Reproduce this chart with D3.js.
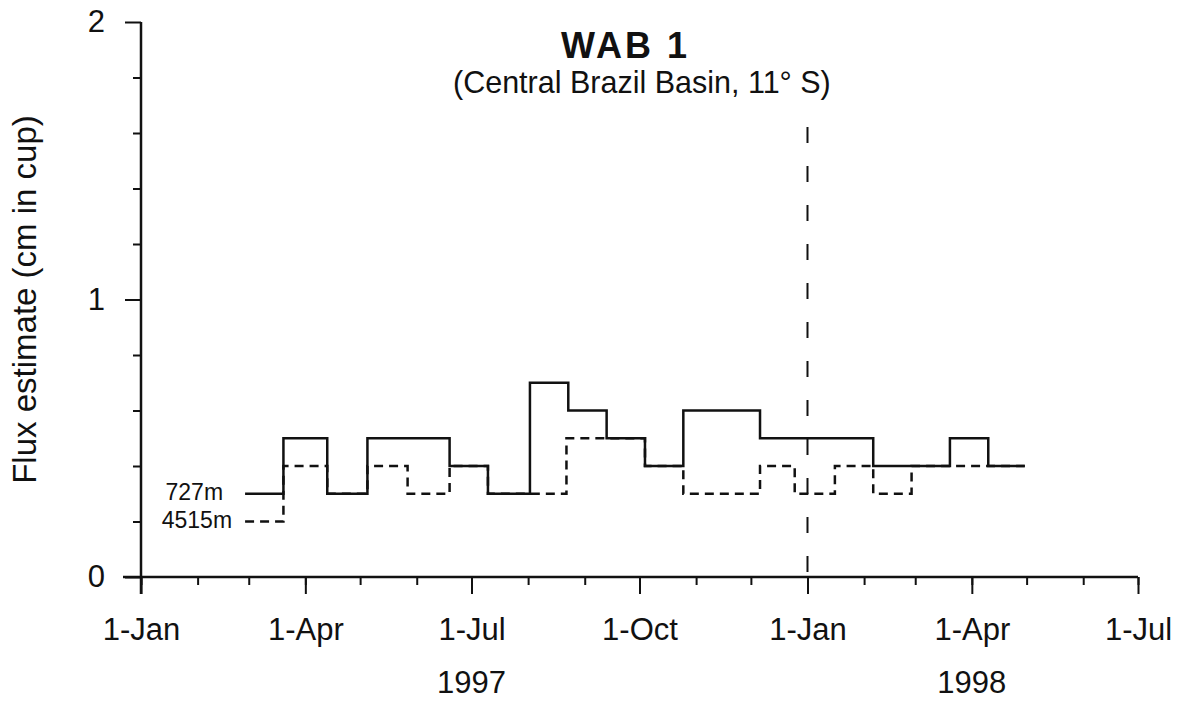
<!DOCTYPE html>
<html>
<head>
<meta charset="utf-8">
<title>WAB 1</title>
<script src="https://cdn.jsdelivr.net/npm/d3@7"></script>
<style>
	body { margin: 0; background: #fff; }
	text { font-family: "Liberation Sans", Arial, sans-serif; fill: #111; }
</style>
</head>
<body>
<div id="chart"></div>
<script>
// step breakpoints, value holds until the next date
var dates727 = ["1997-02-27","1997-03-20","1997-04-13","1997-05-05","1997-06-19","1997-07-10","1997-08-02","1997-08-23","1997-09-13","1997-10-04","1997-10-25","1997-12-06","1998-02-06","1998-03-20","1998-04-10","1998-04-30"];
var flux727 = [0.3,0.5,0.3,0.5,0.4,0.3,0.7,0.6,0.5,0.4,0.6,0.5,0.4,0.5,0.4,0.4];

var dates4515 = ["1997-02-27","1997-03-20","1997-04-13","1997-05-05","1997-05-27","1997-06-19","1997-07-10","1997-08-22","1997-10-04","1997-10-25","1997-12-06","1997-12-25","1998-01-16","1998-02-06","1998-02-27","1998-04-30"];
var flux4515 = [0.2,0.4,0.3,0.4,0.3,0.4,0.3,0.5,0.4,0.3,0.4,0.3,0.4,0.3,0.4,0.4];

var yMajor = [0, 1, 2];
var yMinor = [0.2, 0.4, 0.6, 0.8, 1.2, 1.4, 1.6, 1.8];
var xStart = "1997-01-01", xEnd = "1998-07-01";
var yearMark = "1998-01-01";
var years = [{label: "1997", date: "1997-07-01"}, {label: "1998", date: "1998-04-01"}];

var parse = d3.timeParse("%Y-%m-%d");

var svg = d3.select("#chart").append("svg")
	.attr("width", 1181)
	.attr("height", 703);

var x = d3.scaleTime()
	.domain([parse(xStart), parse(xEnd)])
	.range([141, 1138]);
var y = d3.scaleLinear()
	.domain([0, 2])
	.range([577, 22]);

// x axis: monthly minor ticks, quarterly labelled ticks
var months = d3.timeMonth.range(parse(xStart), d3.timeDay.offset(parse(xEnd), 1));
var quarters = months.filter(function(d){ return d.getMonth() % 3 == 0; });

var xMinorG = svg.append("g")
	.attr("transform", "translate(0,577)")
	.call(d3.axisBottom(x).tickValues(months).tickSize(8).tickFormat("").tickSizeOuter(0));
var xMajorG = svg.append("g")
	.attr("transform", "translate(0,577)")
	.call(d3.axisBottom(x).tickValues(quarters).tickSize(17).tickPadding(24).tickFormat(d3.timeFormat("%-d-%b")).tickSizeOuter(0));
xMajorG.selectAll("text").attr("font-size", 31).attr("dy", "0.7em");

var yMinorG = svg.append("g")
	.attr("transform", "translate(141,0)")
	.call(d3.axisLeft(y).tickValues(yMinor).tickSize(8).tickFormat("").tickSizeOuter(0));
var yMajorG = svg.append("g")
	.attr("transform", "translate(141,0)")
	.call(d3.axisLeft(y).tickValues(yMajor).tickSize(16).tickPadding(20).tickFormat(d3.format("d")).tickSizeOuter(0));
yMajorG.selectAll("text").attr("font-size", 31);

svg.selectAll(".domain").remove();
svg.selectAll(".tick line").attr("stroke", "#111").attr("stroke-width", 2);

// axis lines, x line runs a bit left of the y axis, y axis runs below
svg.append("line")
	.attr("x1", 123).attr("x2", x(parse(xEnd)))
	.attr("y1", y(0)).attr("y2", y(0))
	.attr("stroke", "#111").attr("stroke-width", 2.5);
svg.append("line")
	.attr("x1", x(parse(xStart))).attr("x2", x(parse(xStart)))
	.attr("y1", y(2)).attr("y2", y(0) + 17)
	.attr("stroke", "#111").attr("stroke-width", 2.5);

// year labels
svg.selectAll(".year").data(years)
	.enter().append("text")
	.attr("class", "year")
	.attr("x", function(d){ return x(parse(d.date)); })
	.attr("y", 693)
	.attr("text-anchor", "middle")
	.attr("font-size", 31)
	.text(function(d){ return d.label; });

// new year marker
svg.append("line")
	.attr("x1", x(parse(yearMark))).attr("x2", x(parse(yearMark)))
	.attr("y1", 127).attr("y2", y(0) + 17)
	.attr("stroke", "#111")
	.attr("stroke-width", 2)
	.attr("stroke-dasharray", "16,23");

var line = d3.line()
	.x(function(d){ return x(d[0]); })
	.y(function(d){ return y(d[1]); })
	.curve(d3.curveStepAfter);

var pts4515 = dates4515.map(function(d, i){ return [parse(d), flux4515[i]]; });
var pts727 = dates727.map(function(d, i){ return [parse(d), flux727[i]]; });

svg.append("path")
	.attr("d", line(pts4515))
	.attr("fill", "none")
	.attr("stroke", "#111")
	.attr("stroke-width", 2.5)
	.attr("stroke-dasharray", "9,6");
svg.append("path")
	.attr("d", line(pts727))
	.attr("fill", "none")
	.attr("stroke", "#111")
	.attr("stroke-width", 2.5);

// series labels sit left of each line start
svg.append("text")
	.attr("x", x(pts727[0][0]) - 22)
	.attr("y", y(flux727[0]) + 6)
	.attr("text-anchor", "end")
	.attr("font-size", 23)
	.text("727m");
svg.append("text")
	.attr("x", x(pts4515[0][0]) - 13)
	.attr("y", y(flux4515[0]) + 6)
	.attr("text-anchor", "end")
	.attr("font-size", 23)
	.text("4515m");

// titles
svg.append("text")
	.attr("x", 561)
	.attr("y", 58)
	.attr("font-size", 36)
	.attr("font-weight", "bold")
	.attr("letter-spacing", 3)
	.text("WAB 1");
svg.append("text")
	.attr("x", 453)
	.attr("y", 93)
	.attr("font-size", 30.5)
	.text("(Central Brazil Basin, 11° S)");

svg.append("text")
	.attr("transform", "translate(36," + y(1) + ") rotate(-90)")
	.attr("text-anchor", "middle")
	.attr("font-size", 33)
	.text("Flux estimate (cm in cup)");
</script>
</body>
</html>
